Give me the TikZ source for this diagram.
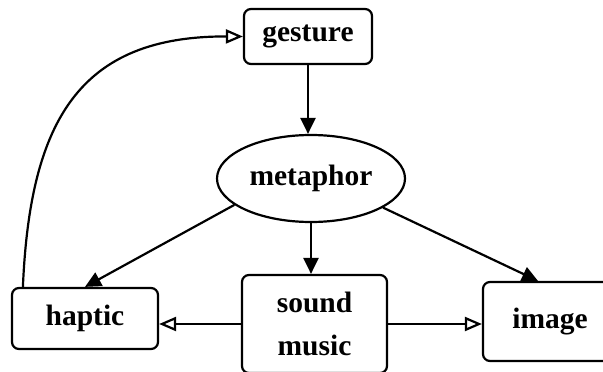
\documentclass[tikz,border=0pt]{standalone}
\usepackage{fontspec}
\setmainfont{Liberation Serif}
\usetikzlibrary{shapes.geometric,arrows.meta}
\begin{document}
\begin{tikzpicture}[x=1pt,y=-1pt,
  every node/.style={font=\fontsize{29.5}{43}\selectfont\bfseries, line width=2.2pt, inner sep=0pt},
  box/.style={draw, rectangle, rounded corners=7pt},
  oval/.style={draw, ellipse},
  fullarr/.style={line width=2.2pt, -{Triangle[length=16pt,width=15pt]}},
  openarr/.style={line width=2.2pt, -{Triangle[open,length=17pt,width=14pt]}}]
\useasboundingbox (0,0) rectangle (603,372);
\node[box, minimum width=128pt, minimum height=55pt] (gesture) at (308,36.5) {gesture};
\node[oval, minimum width=188pt, minimum height=87pt] (metaphor) at (311,178.5) {metaphor};
\node[box, minimum width=146pt, minimum height=61pt] (haptic) at (85,318.5) {haptic};
\node[box, minimum width=145pt, minimum height=98pt, align=center] (sound) at (314.5,324) {sound\\music};
\node[box, minimum width=134pt, minimum height=79pt] (image) at (550,321.5) {image};
\coordinate (imgtop) at ([xshift=-12pt]image.north);
\coordinate (hapstart) at ([xshift=12pt]haptic.north west);
\draw[fullarr] (gesture.south) -- (gesture.south |- metaphor.north);
\draw[fullarr] (metaphor.south) -- (metaphor.south |- sound.north);
\draw[fullarr] (metaphor.199) -- (haptic.north);
\draw[fullarr] (metaphor.-22) -- (imgtop);
\draw[openarr] (sound.west) -- (sound.west -| haptic.east);
\draw[openarr] (sound.east) -- (sound.east -| image.west);
\draw[openarr] (hapstart) .. controls (30,120) and (80,36) .. (gesture.west);
\end{tikzpicture}
\end{document}
